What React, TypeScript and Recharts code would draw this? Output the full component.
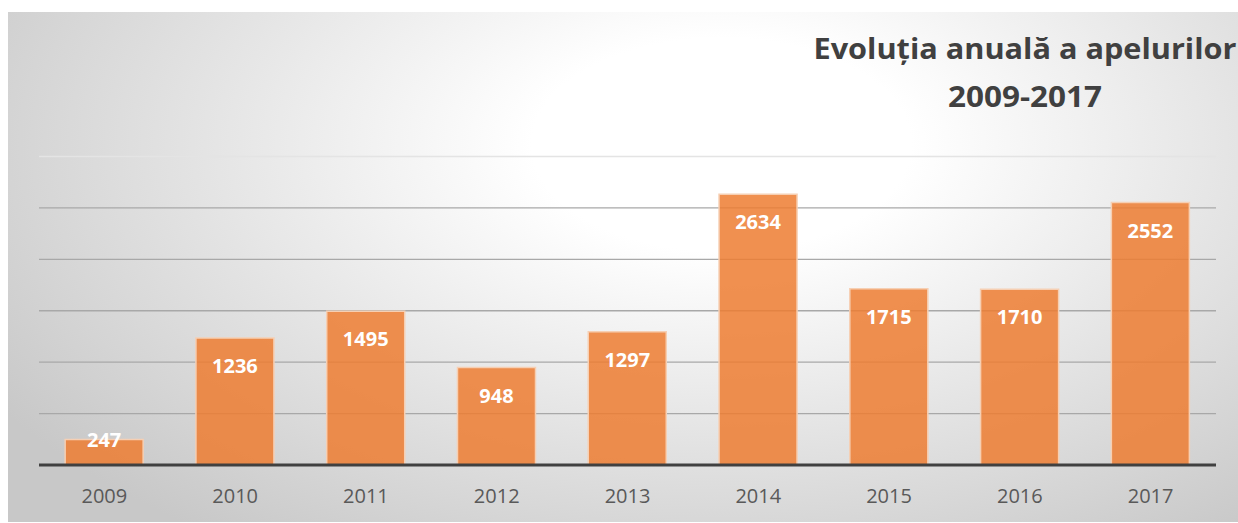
import React from 'react';
import { BarChart, Bar, XAxis, YAxis, CartesianGrid } from 'recharts';

const years = ['2009', '2010', '2011', '2012', '2013', '2014', '2015', '2016', '2017'];
const calls = [247, 1236, 1495, 948, 1297, 2634, 1715, 1710, 2552];
const gridTicks = [0, 500, 1000, 1500, 2000, 2500, 3000];
const titleLine1 = 'Evoluția anuală a apelurilor';
const titleLine2 = '2009-2017';

const data = years.map((y, i) => ({ year: y, value: calls[i] }));

const FONT = '"Open Sans", "DejaVu Sans", sans-serif';

const renderLabel = (props: any) => {
  const { x, y, width, height, value } = props;
  const offset = height >= 45 ? 35 : 7;
  return (
    <text
      x={x + width / 2}
      y={y + offset}
      textAnchor="middle"
      fill="#ffffff"
      fontFamily={FONT}
      fontWeight={700}
      fontSize={20}
    >
      {value}
    </text>
  );
};

const renderTick = (props: any) => {
  const { x, y, payload } = props;
  return (
    <text
      x={x}
      y={y}
      dy={30}
      textAnchor="middle"
      fill="#595959"
      fontFamily={FONT}
      fontSize={20}
    >
      {payload.value}
    </text>
  );
};

const renderGridLine = (p: any) => {
  const isTop = p.y1 < 170;
  return (
    <line
      key={p.key ?? `g-${p.y1}`}
      x1={p.x1}
      y1={p.y1}
      x2={p.x2}
      y2={p.y2}
      stroke={isTop ? '#e4e4e4' : '#a8a8a8'}
      strokeWidth={1.3}
    />
  );
};

export default function App() {
  return (
    <div style={{ paddingTop: 4, width: 1230 }}>
      <style>{'body{margin-right:0;margin-bottom:0;} #root{width:1230px;}'}</style>
      <div
        style={{
          position: 'relative',
          width: 1230,
          height: 510,
          background:
            'radial-gradient(ellipse 70% 95% at 58% 26%, #ffffff 0%, #ffffff 22%, #e4e4e4 60%, #c8c8c8 100%)',
        }}
      >
        <BarChart
          width={1230}
          height={510}
          data={data}
          margin={{ top: 144.5, right: 22, left: 31, bottom: 0 }}
          barCategoryGap="20%"
        >
          <CartesianGrid vertical={false} horizontal={renderGridLine} />
          <YAxis hide domain={[0, 3000]} ticks={gridTicks} />
          <XAxis
            dataKey="year"
            height={57}
            tickLine={false}
            axisLine={{ stroke: '#404040', strokeWidth: 3 }}
            tick={renderTick}
            interval={0}
          />
          <Bar
            dataKey="value"
            fill="#ED7D31"
            fillOpacity={0.85}
            stroke="#f6cfb3"
            strokeWidth={1.5}
            isAnimationActive={false}
            label={renderLabel}
          />
        </BarChart>
        <svg
          width={1230}
          height={140}
          style={{ position: 'absolute', left: 0, top: 0, pointerEvents: 'none', overflow: 'visible' }}
        >
          <text
            x={1017}
            y={47}
            textAnchor="middle"
            fill="#404040"
            fontFamily={FONT}
            fontWeight={700}
            fontSize={29}
            textLength={423}
            lengthAdjust="spacingAndGlyphs"
          >
            {titleLine1}
          </text>
          <text
            x={1017}
            y={95}
            textAnchor="middle"
            fill="#404040"
            fontFamily={FONT}
            fontWeight={700}
            fontSize={29}
            textLength={154}
            lengthAdjust="spacingAndGlyphs"
          >
            {titleLine2}
          </text>
        </svg>
      </div>
    </div>
  );
}
